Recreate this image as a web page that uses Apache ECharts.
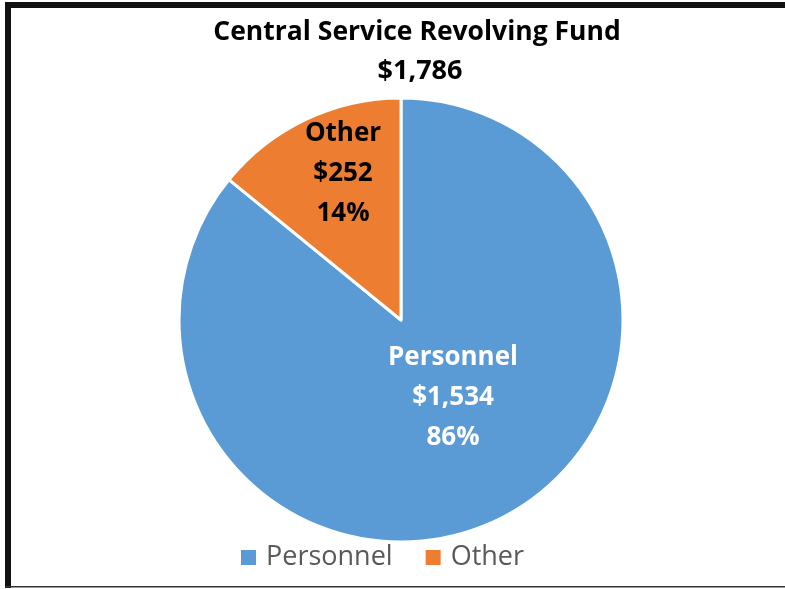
<!DOCTYPE html>
<html><head><meta charset="utf-8">
<script src="https://cdn.jsdelivr.net/npm/echarts@6/dist/echarts.min.js"></script>
<style>html,body{margin:0;padding:0;background:#fff}#c{width:785px;height:589px}</style>
</head><body><div id="c"></div>
<script>
const categories = ['Personnel', 'Other'];
const values = [1534, 252];
const percents = ['86%', '14%'];
const totalLabel = '$1,786';
const titleText = 'Central Service Revolving Fund';

const FONT = '"Open Sans", sans-serif';
const chart = echarts.init(document.getElementById('c'), null, {renderer: 'canvas'});
const colors = ['#5B9BD5', '#ED7D31'];
const labelColors = ['#ffffff', '#000000'];
const labelPos = [[453, 398], [343, 174]];
chart.setOption({
  animation: false,
  title: [
    {text: titleText, left: 412, textAlign: 'center', top: 14, textStyle: {fontFamily: FONT, fontWeight: 'bold', fontSize: 26.5, color: '#000'}},
    {text: totalLabel, left: 415, textAlign: 'center', top: 53, textStyle: {fontFamily: FONT, fontWeight: 'bold', fontSize: 27, color: '#000'}}
  ],
  legend: {
    top: 539, left: 234, itemWidth: 17, itemHeight: 17, itemGap: 31, icon: 'rect',
    textStyle: {fontFamily: FONT, fontSize: 27, color: '#595959', padding: [0,0,0,4]},
    data: categories
  },
  graphic: [
    {type: 'rect', shape: {x: 5, y: 2, width: 780, height: 6}, style: {fill: '#111'}},
    {type: 'rect', shape: {x: 5, y: 2, width: 6, height: 586}, style: {fill: '#111'}},
    {type: 'rect', shape: {x: 5, y: 586, width: 780, height: 1.5}, style: {fill: '#333'}}
  ],
  series: [{
    type: 'pie', center: [401, 320], radius: 222, startAngle: 90, clockwise: true,
    itemStyle: {borderColor: '#fff', borderWidth: 3},
    label: {
      show: true, position: 'inside', fontFamily: FONT, fontWeight: 'bold', fontSize: 26, lineHeight: 40,
      formatter: p => p.name + '\n$' + p.value.toLocaleString('en-US') + '\n' + percents[p.dataIndex]
    },
    labelLayout: p => ({x: labelPos[p.dataIndex][0], y: labelPos[p.dataIndex][1], align: 'center', verticalAlign: 'middle'}),
    labelLine: {show: false},
    data: categories.map((c, i) => ({name: c, value: values[i], itemStyle: {color: colors[i]}, label: {color: labelColors[i]}}))
  }]
});
</script></body></html>
